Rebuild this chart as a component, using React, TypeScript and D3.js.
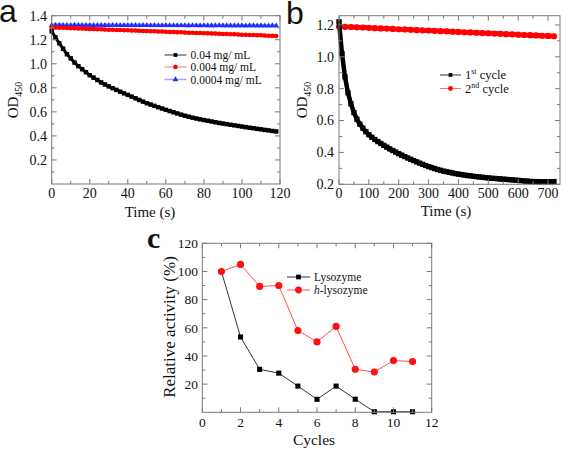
import React from 'react';
import * as d3 from 'd3';

const SERIF = '"Liberation Serif", "Times New Roman", serif';
const SANS = '"Liberation Sans", Arial, sans-serif';

// ---------- Panel a ----------
const timeA = [0,2,4,6,8,10,12,14,16,18,20,22,24,26,28,30,32,34,36,38,40,42,44,46,48,50,52,54,56,58,60,62,64,66,68,70,72,74,76,78,80,82,84,86,88,90,92,94,96,98,100,102,104,106,108,110,112,114,116,118];
const od004 = [1.27,1.22,1.17,1.125,1.08,1.045,1.01,0.98,0.955,0.93,0.905,0.885,0.865,0.845,0.828,0.812,0.797,0.783,0.768,0.754,0.741,0.727,0.713,0.699,0.685,0.672,0.661,0.65,0.639,0.628,0.617,0.607,0.597,0.587,0.577,0.568,0.56,0.552,0.545,0.538,0.532,0.526,0.52,0.514,0.508,0.503,0.498,0.493,0.488,0.483,0.478,0.473,0.468,0.464,0.459,0.455,0.45,0.446,0.441,0.437];
const od0004 = [1.302,1.301,1.3,1.299,1.297,1.296,1.295,1.294,1.293,1.291,1.29,1.289,1.288,1.287,1.285,1.284,1.283,1.282,1.281,1.279,1.278,1.277,1.276,1.275,1.273,1.272,1.271,1.27,1.269,1.268,1.266,1.265,1.264,1.263,1.262,1.26,1.259,1.258,1.257,1.256,1.254,1.253,1.252,1.251,1.25,1.248,1.247,1.246,1.245,1.244,1.242,1.241,1.24,1.239,1.238,1.237,1.235,1.234,1.233,1.232];
const od00004 = [1.322,1.322,1.322,1.321,1.321,1.321,1.322,1.321,1.321,1.321,1.321,1.32,1.321,1.321,1.32,1.32,1.321,1.32,1.32,1.32,1.32,1.32,1.32,1.319,1.32,1.32,1.319,1.32,1.319,1.319,1.32,1.319,1.319,1.319,1.319,1.319,1.318,1.319,1.319,1.318,1.319,1.318,1.318,1.318,1.319,1.318,1.318,1.318,1.318,1.318,1.318,1.317,1.318,1.318,1.317,1.318,1.317,1.317,1.318,1.317];
const legendA = ['0.04 mg/ mL', '0.004 mg/ mL', '0.0004 mg/ mL'];

// ---------- Panel b ----------
const timeB1 = [0,10,20,30,40,50,60,70,80,90,100,110,120,130,140,150,160,170,180,190,200,210,220,230,240,250,260,270,280,290,300,310,320,330,340,350,360,370,380,390,400,410,420,430,440,450,460,470,480,490,500,510,520,530,540,550,560,570,580,590,600,610,620,630,640,650,660,670,680,690,700,710,720];
const cycle1 = [1.22,1.02,0.875,0.775,0.705,0.65,0.608,0.577,0.552,0.53,0.511,0.495,0.481,0.468,0.456,0.444,0.433,0.422,0.412,0.402,0.392,0.383,0.374,0.365,0.357,0.349,0.341,0.333,0.325,0.318,0.311,0.305,0.299,0.293,0.288,0.283,0.279,0.275,0.271,0.267,0.264,0.261,0.258,0.255,0.253,0.25,0.248,0.246,0.244,0.242,0.24,0.238,0.237,0.235,0.234,0.232,0.231,0.229,0.228,0.226,0.225,0.223,0.221,0.22,0.218,0.217,0.217,0.216,0.216,0.216,0.216,0.216,0.217];
const timeB2 = [0,20,40,60,80,100,120,140,160,180,200,220,240,260,280,300,320,340,360,380,400,420,440,460,480,500,520,540,560,580,600,620,640,660,680,700,720];
const cycle2 = [1.19,1.188,1.187,1.185,1.184,1.182,1.18,1.178,1.177,1.175,1.173,1.172,1.17,1.168,1.166,1.165,1.163,1.161,1.16,1.158,1.156,1.154,1.153,1.151,1.149,1.148,1.146,1.144,1.142,1.141,1.139,1.137,1.136,1.134,1.132,1.131,1.129];

// ---------- Panel c ----------
const cycles = [1,2,3,4,5,6,7,8,9,10,11];
const lysozyme = [100,53.5,30.5,27.8,18.6,9.2,18.6,9.3,0.4,0.4,0.4];
const hLysozyme = [100,105,89.4,90,58,50,61,30.5,28.6,36.8,36];

const AXIS = '#7a7a7a';

type FrameProps = {
  xs: any; ys: any;
  xMajor: number[]; xMinor: number[]; yMajor: number[]; yMinor: number[];
  xLabels: number[]; yLabels: number[];
  xFmt: (v: number) => string; yFmt: (v: number) => string;
  fs: number; xLabY: number; yLabX: number;
};

function Frame(p: FrameProps) {
  const [x0, x1] = p.xs.range();
  const [yb, yt] = p.ys.range();
  const M = 5, m = 3;
  return (
    <g>
      <rect x={x0} y={yt} width={x1 - x0} height={yb - yt} fill="none" stroke={AXIS} strokeWidth={1} />
      {p.xMajor.map((v) => (
        <g key={'xM' + v}>
          <line x1={p.xs(v)} x2={p.xs(v)} y1={yb} y2={yb - M} stroke={AXIS} />
          <line x1={p.xs(v)} x2={p.xs(v)} y1={yt} y2={yt + M} stroke={AXIS} />
        </g>
      ))}
      {p.xMinor.map((v) => (
        <g key={'xm' + v}>
          <line x1={p.xs(v)} x2={p.xs(v)} y1={yb} y2={yb - m} stroke={AXIS} />
          <line x1={p.xs(v)} x2={p.xs(v)} y1={yt} y2={yt + m} stroke={AXIS} />
        </g>
      ))}
      {p.yMajor.map((v) => (
        <g key={'yM' + v}>
          <line x1={x0} x2={x0 + M} y1={p.ys(v)} y2={p.ys(v)} stroke={AXIS} />
          <line x1={x1} x2={x1 - M} y1={p.ys(v)} y2={p.ys(v)} stroke={AXIS} />
        </g>
      ))}
      {p.yMinor.map((v) => (
        <g key={'ym' + v}>
          <line x1={x0} x2={x0 + m} y1={p.ys(v)} y2={p.ys(v)} stroke={AXIS} />
          <line x1={x1} x2={x1 - m} y1={p.ys(v)} y2={p.ys(v)} stroke={AXIS} />
        </g>
      ))}
      {p.xLabels.map((v) => (
        <text key={'xl' + v} x={p.xs(v)} y={p.xLabY} textAnchor="middle" fontFamily={SERIF} fontSize={p.fs} fill="#111">
          {p.xFmt(v)}
        </text>
      ))}
      {p.yLabels.map((v) => (
        <text key={'yl' + v} x={p.yLabX} y={p.ys(v)} dy="0.35em" textAnchor="end" fontFamily={SERIF} fontSize={p.fs} fill="#111">
          {p.yFmt(v)}
        </text>
      ))}
    </g>
  );
}

const sq = (size: number) => d3.symbol().type(d3.symbolSquare).size(size)() as string;
const ci = (size: number) => d3.symbol().type(d3.symbolCircle).size(size)() as string;
const tri = (size: number) => d3.symbol().type(d3.symbolTriangle).size(size)() as string;

function Series({ xs, ys, xv, yv, lineColor, lineWidth, marker, markerColor }: any) {
  const line = d3.line<number>().x((_, i) => xs(xv[i])).y((d) => ys(d));
  return (
    <g>
      <path d={line(yv) as string} fill="none" stroke={lineColor} strokeWidth={lineWidth} strokeLinejoin="round" />
      {yv.map((v: number, i: number) => (
        <path key={i} d={marker} transform={`translate(${xs(xv[i])},${ys(v)})`} fill={markerColor} />
      ))}
    </g>
  );
}

function LegendRow({ x, y, w, lineColor, lineWidth, marker, markerColor, children, fs }: any) {
  return (
    <g>
      <line x1={x} x2={x + w} y1={y} y2={y} stroke={lineColor} strokeWidth={lineWidth} />
      <path d={marker} transform={`translate(${x + w / 2},${y})`} fill={markerColor} />
      <text x={x + w + 4} y={y} dy="0.35em" fontFamily={SERIF} fontSize={fs} fill="#111">
        {children}
      </text>
    </g>
  );
}

export default function App() {
  // panel a
  const xa = d3.scaleLinear().domain([0, 120]).range([51.7, 280]);
  const ya = d3.scaleLinear().domain([0, 1.4]).range([184, 15.7]);
  // panel b
  const xb = d3.scaleLinear().domain([0, 740]).range([339, 560]);
  const yb = d3.scaleLinear().domain([0.2, 1.258]).range([184.3, 15.7]);
  // panel c
  const xc = d3.scaleLinear().domain([0, 12]).range([202.3, 431.7]);
  const yc = d3.scaleLinear().domain([0, 120]).range([412.3, 243.3]);

  const f1 = (v: number) => v.toFixed(1);
  const f0 = (v: number) => String(Math.round(v));
  const notIn = (arr: number[]) => (v: number) => !arr.some((a) => Math.abs(a - v) < 1e-6);

  const aXM = d3.range(0, 121, 20), aXm = d3.range(0, 121, 10).filter(notIn(aXM));
  const aYM = [0.2, 0.4, 0.6, 0.8, 1.0, 1.2, 1.4], aYm = [0.1, 0.3, 0.5, 0.7, 0.9, 1.1, 1.3];
  const bXM = d3.range(0, 701, 100), bXm = d3.range(50, 741, 100);
  const bYM = [0.2, 0.4, 0.6, 0.8, 1.0, 1.2], bYm = [0.3, 0.5, 0.7, 0.9, 1.1];
  const cXM = d3.range(0, 13, 2), cXm = d3.range(1, 12, 2);
  const cYM = d3.range(20, 121, 20), cYm = d3.range(10, 120, 20);

  return (
    <svg width={567} height={450} style={{ position: 'absolute', left: 0, top: 0, background: '#fff' }}>
      <rect x={0} y={0} width={567} height={450} fill="#fff" />
      {/* ---- panel a ---- */}
      <text x={-1} y={22} fontFamily={SANS} fontSize={32} fill="#111">a</text>
      <Series xs={xa} ys={ya} xv={timeA} yv={od00004} lineColor="#9ea6ff" lineWidth={3.5} marker={tri(14)} markerColor="#1f2bff" />
      <Series xs={xa} ys={ya} xv={timeA} yv={od0004} lineColor="#ff2020" lineWidth={3.5} marker={ci(16)} markerColor="#ff0000" />
      <Series xs={xa} ys={ya} xv={timeA} yv={od004} lineColor="#000" lineWidth={3} marker={sq(20)} markerColor="#000" />
      <Frame xs={xa} ys={ya} xMajor={aXM} xMinor={aXm} yMajor={aYM} yMinor={aYm}
        xLabels={aXM} yLabels={aYM} xFmt={f0} yFmt={f1} fs={14} xLabY={198} yLabX={47} />
      <LegendRow x={164.5} y={55} w={22} lineColor="#333" lineWidth={1} marker={sq(14)} markerColor="#000" fs={11.5}>{legendA[0]}</LegendRow>
      <LegendRow x={164.5} y={67} w={22} lineColor="#ff7070" lineWidth={1} marker={ci(16)} markerColor="#ff0000" fs={11.5}>{legendA[1]}</LegendRow>
      <LegendRow x={164.5} y={79.5} w={22} lineColor="#9ea6ff" lineWidth={1.5} marker={tri(14)} markerColor="#1f2bff" fs={11.5}>{legendA[2]}</LegendRow>
      <text x={150} y={217} textAnchor="middle" fontFamily={SERIF} fontSize={15} fill="#111">Time (s)</text>
      <text transform="translate(18,100) rotate(-90)" textAnchor="middle" fontFamily={SERIF} fontSize={15} fill="#111">
        OD<tspan dy={4} fontSize={10}>450</tspan>
      </text>

      {/* ---- panel b ---- */}
      <text x={286} y={24} fontFamily={SANS} fontSize={32} fill="#111">b</text>
      <Series xs={xb} ys={yb} xv={timeB2} yv={cycle2} lineColor="#ff1a1a" lineWidth={5} marker={ci(30)} markerColor="#ff0000" />
      <Series xs={xb} ys={yb} xv={timeB1} yv={cycle1} lineColor="#000" lineWidth={4.5} marker={sq(28)} markerColor="#000" />
      <Frame xs={xb} ys={yb} xMajor={bXM} xMinor={bXm} yMajor={bYM} yMinor={bYm}
        xLabels={bXM} yLabels={bYM} xFmt={f0} yFmt={f1} fs={14} xLabY={198} yLabX={334} />
      <LegendRow x={440} y={75} w={21} lineColor="#333" lineWidth={1} marker={sq(14)} markerColor="#000" fs={12.5}>
        1<tspan dy={-5} fontSize={8}>st</tspan><tspan dy={5}> cycle</tspan>
      </LegendRow>
      <LegendRow x={440} y={88.5} w={21} lineColor="#ff7070" lineWidth={1} marker={ci(18)} markerColor="#ff0000" fs={12.5}>
        2<tspan dy={-5} fontSize={8}>nd</tspan><tspan dy={5}> cycle</tspan>
      </LegendRow>
      <text x={446} y={216} textAnchor="middle" fontFamily={SERIF} fontSize={15} fill="#111">Time (s)</text>
      <text transform="translate(307,100) rotate(-90)" textAnchor="middle" fontFamily={SERIF} fontSize={15} fill="#111">
        OD<tspan dy={4} fontSize={10}>450</tspan>
      </text>

      {/* ---- panel c ---- */}
      <text x={147} y={248} fontFamily={SERIF} fontWeight="bold" fontSize={30} fill="#111">c</text>
      <Series xs={xc} ys={yc} xv={cycles} yv={lysozyme} lineColor="#333" lineWidth={1} marker={sq(26)} markerColor="#000" />
      <Series xs={xc} ys={yc} xv={cycles} yv={hLysozyme} lineColor="#ff5050" lineWidth={1} marker={ci(40)} markerColor="#ff1010" />
      <Frame xs={xc} ys={yc} xMajor={cXM} xMinor={cXm} yMajor={cYM} yMinor={cYm}
        xLabels={cXM} yLabels={cYM} xFmt={f0} yFmt={f0} fs={13.5} xLabY={427} yLabX={198} />
      <LegendRow x={287} y={277} w={23} lineColor="#333" lineWidth={1} marker={sq(22)} markerColor="#000" fs={11.5}>Lysozyme</LegendRow>
      <LegendRow x={287} y={290} w={23} lineColor="#ff5050" lineWidth={1} marker={ci(36)} markerColor="#ff1010" fs={11.5}>
        <tspan fontStyle="italic">h</tspan>-lysozyme
      </LegendRow>
      <text x={314} y={445} textAnchor="middle" fontFamily={SERIF} fontSize={15.5} fill="#111">Cycles</text>
      <text transform="translate(175,327) rotate(-90)" textAnchor="middle" fontFamily={SERIF} fontSize={17} fill="#111">
        Relative activity (%)
      </text>
    </svg>
  );
}
